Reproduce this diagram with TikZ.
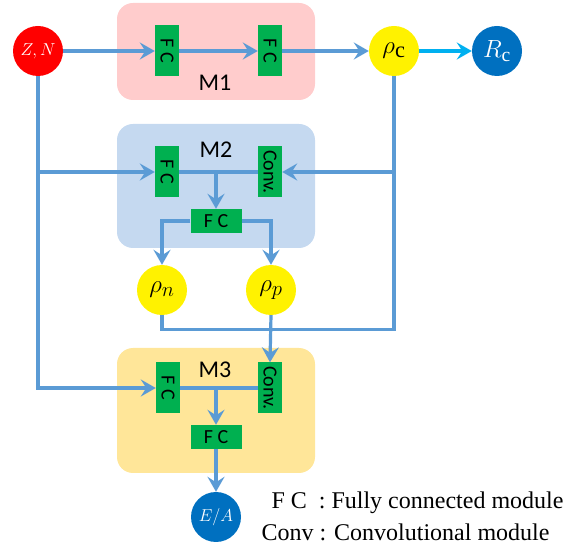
\documentclass[tikz,border=0pt]{standalone}
\usepackage{fontspec}
\setmainfont{Liberation Serif}
\newfontfamily\calib{Carlito}
\usetikzlibrary{arrows.meta,positioning,calc}
\definecolor{lnblue}{RGB}{91,155,213}
\definecolor{cyanarr}{RGB}{0,176,240}
\definecolor{fcgreen}{RGB}{0,176,80}
\definecolor{circblue}{RGB}{0,112,192}
\definecolor{mpink}{RGB}{255,204,204}
\definecolor{mblue}{RGB}{197,217,240}
\definecolor{myellow}{RGB}{255,230,153}
\tikzset{
  conn/.style={draw=lnblue,line width=3.2pt},
  tip/.style={-{Stealth[length=15pt,width=17pt,inset=5.5pt]}},
  arr/.style={conn,tip},
  modbox/.style={rectangle,rounded corners=16pt,minimum width=198pt,inner sep=0pt},
  vbox/.style={rectangle,fill=fcgreen,minimum width=24pt,minimum height=51pt,inner sep=0pt,
     font=\calib\fontsize{20}{20}\selectfont},
  hbox/.style={rectangle,fill=fcgreen,minimum width=51pt,minimum height=24pt,inner sep=0pt,
     font=\calib\fontsize{20}{20}\selectfont},
  disc/.style={circle,minimum size=50pt,inner sep=0pt},
  mlabel/.style={font=\calib\fontsize{24}{24}\selectfont},
  legend/.style={anchor=west,font=\fontsize{24}{24}\selectfont},
}
\begin{document}
\begin{tikzpicture}[x=1pt,y=-1pt]
\useasboundingbox (0,0) rectangle (582,548);
% module backgrounds
\node[modbox,fill=mpink,minimum height=97pt] (m1) at (216,51.5) {};
\node[modbox,fill=mblue,minimum height=124pt] (m2) at (216,186) {};
\node[modbox,fill=myellow,minimum height=125pt] (m3) at (216,410.5) {};
% labels
\node[mlabel] (m1l) at (215,83) {M1};
\node[mlabel] (m2l) at (216,150) {M2};
\node[mlabel] (m3l) at (215,370) {M3};
% circles
\node[disc,fill=red,text=white,font=\fontsize{18}{18}\selectfont] (zn) at (38,51) {$Z,N$};
\node[disc,fill=yellow,font=\fontsize{32}{32}\selectfont] (rhoc) at (394,51) {$\rho_{\mathrm{c}}$};
\node[disc,fill=circblue,text=white,font=\fontsize{28}{28}\selectfont] (rc) at (497,51) {$R_{\mathrm{c}}$};
\node[disc,fill=yellow,font=\fontsize{32}{32}\selectfont] (rhon) at (162,290) {$\rho_n$};
\node[disc,fill=yellow,font=\fontsize{32}{32}\selectfont] (rhop) at (271,290) {$\rho_p$};
\node[disc,fill=circblue,text=white,font=\fontsize{18}{18}\selectfont] (ea) at (216,517) {$E/A$};
% blocks
\node[vbox] (fc11) at (167,51) {\rotatebox{-90}{F C}};
\node[vbox] (fc12) at (270,51) {\rotatebox{-90}{F C}};
\node[vbox] (fc21) at (167,172) {\rotatebox{-90}{F C}};
\node[vbox] (cv2) at (270,172) {\rotatebox{-90}{Conv.}};
\node[hbox] (fc23) at (216,221) {F C};
\node[vbox] (fc31) at (168,388) {\rotatebox{-90}{F C}};
\node[vbox] (cv3) at (270,388) {\rotatebox{-90}{Conv.}};
\node[hbox] (fc33) at (216,437) {F C};
% legend
\node[legend] (lg1) at (268,503) {F C \ : Fully connected module};
\node[legend] (lg2) at (258,532) {Conv : Convolutional module};
% M1 chain
\draw[arr] (zn) -- (fc11);
\draw[arr] (fc11) -- (fc12);
\draw[arr] (fc12) -- (rhoc);
\draw[conn,draw=cyanarr,tip] (rhoc) -- (rc);
% Z,N feed
\draw[arr] (zn.south) |- (fc31.west);
\coordinate (zb) at (zn.south |- fc21.west);
\draw[arr] (zb) -- (fc21.west);
% rho_c feed
\draw[arr] (rhoc.south) |- (cv2.east);
\draw[conn] (rhon.south) -- ++(0,14) -| (rhoc.south);
\draw[arr] (rhop.south) -- (cv3.north);
% M2 inner
\draw[conn] (fc21.east) -- (cv2.west);
\draw[arr] (fc21.east -| fc23.north) -- (fc23.north);
\draw[arr] (fc23.west) -| (rhon.north);
\draw[arr] (fc23.east) -| (rhop.north);
% M3 inner
\draw[conn] (fc31.east) -- (cv3.west);
\draw[arr] (fc31.east -| fc33.north) -- (fc33.north);
\draw[arr] (fc33.south) -- (ea.north);
\end{tikzpicture}
\end{document}
